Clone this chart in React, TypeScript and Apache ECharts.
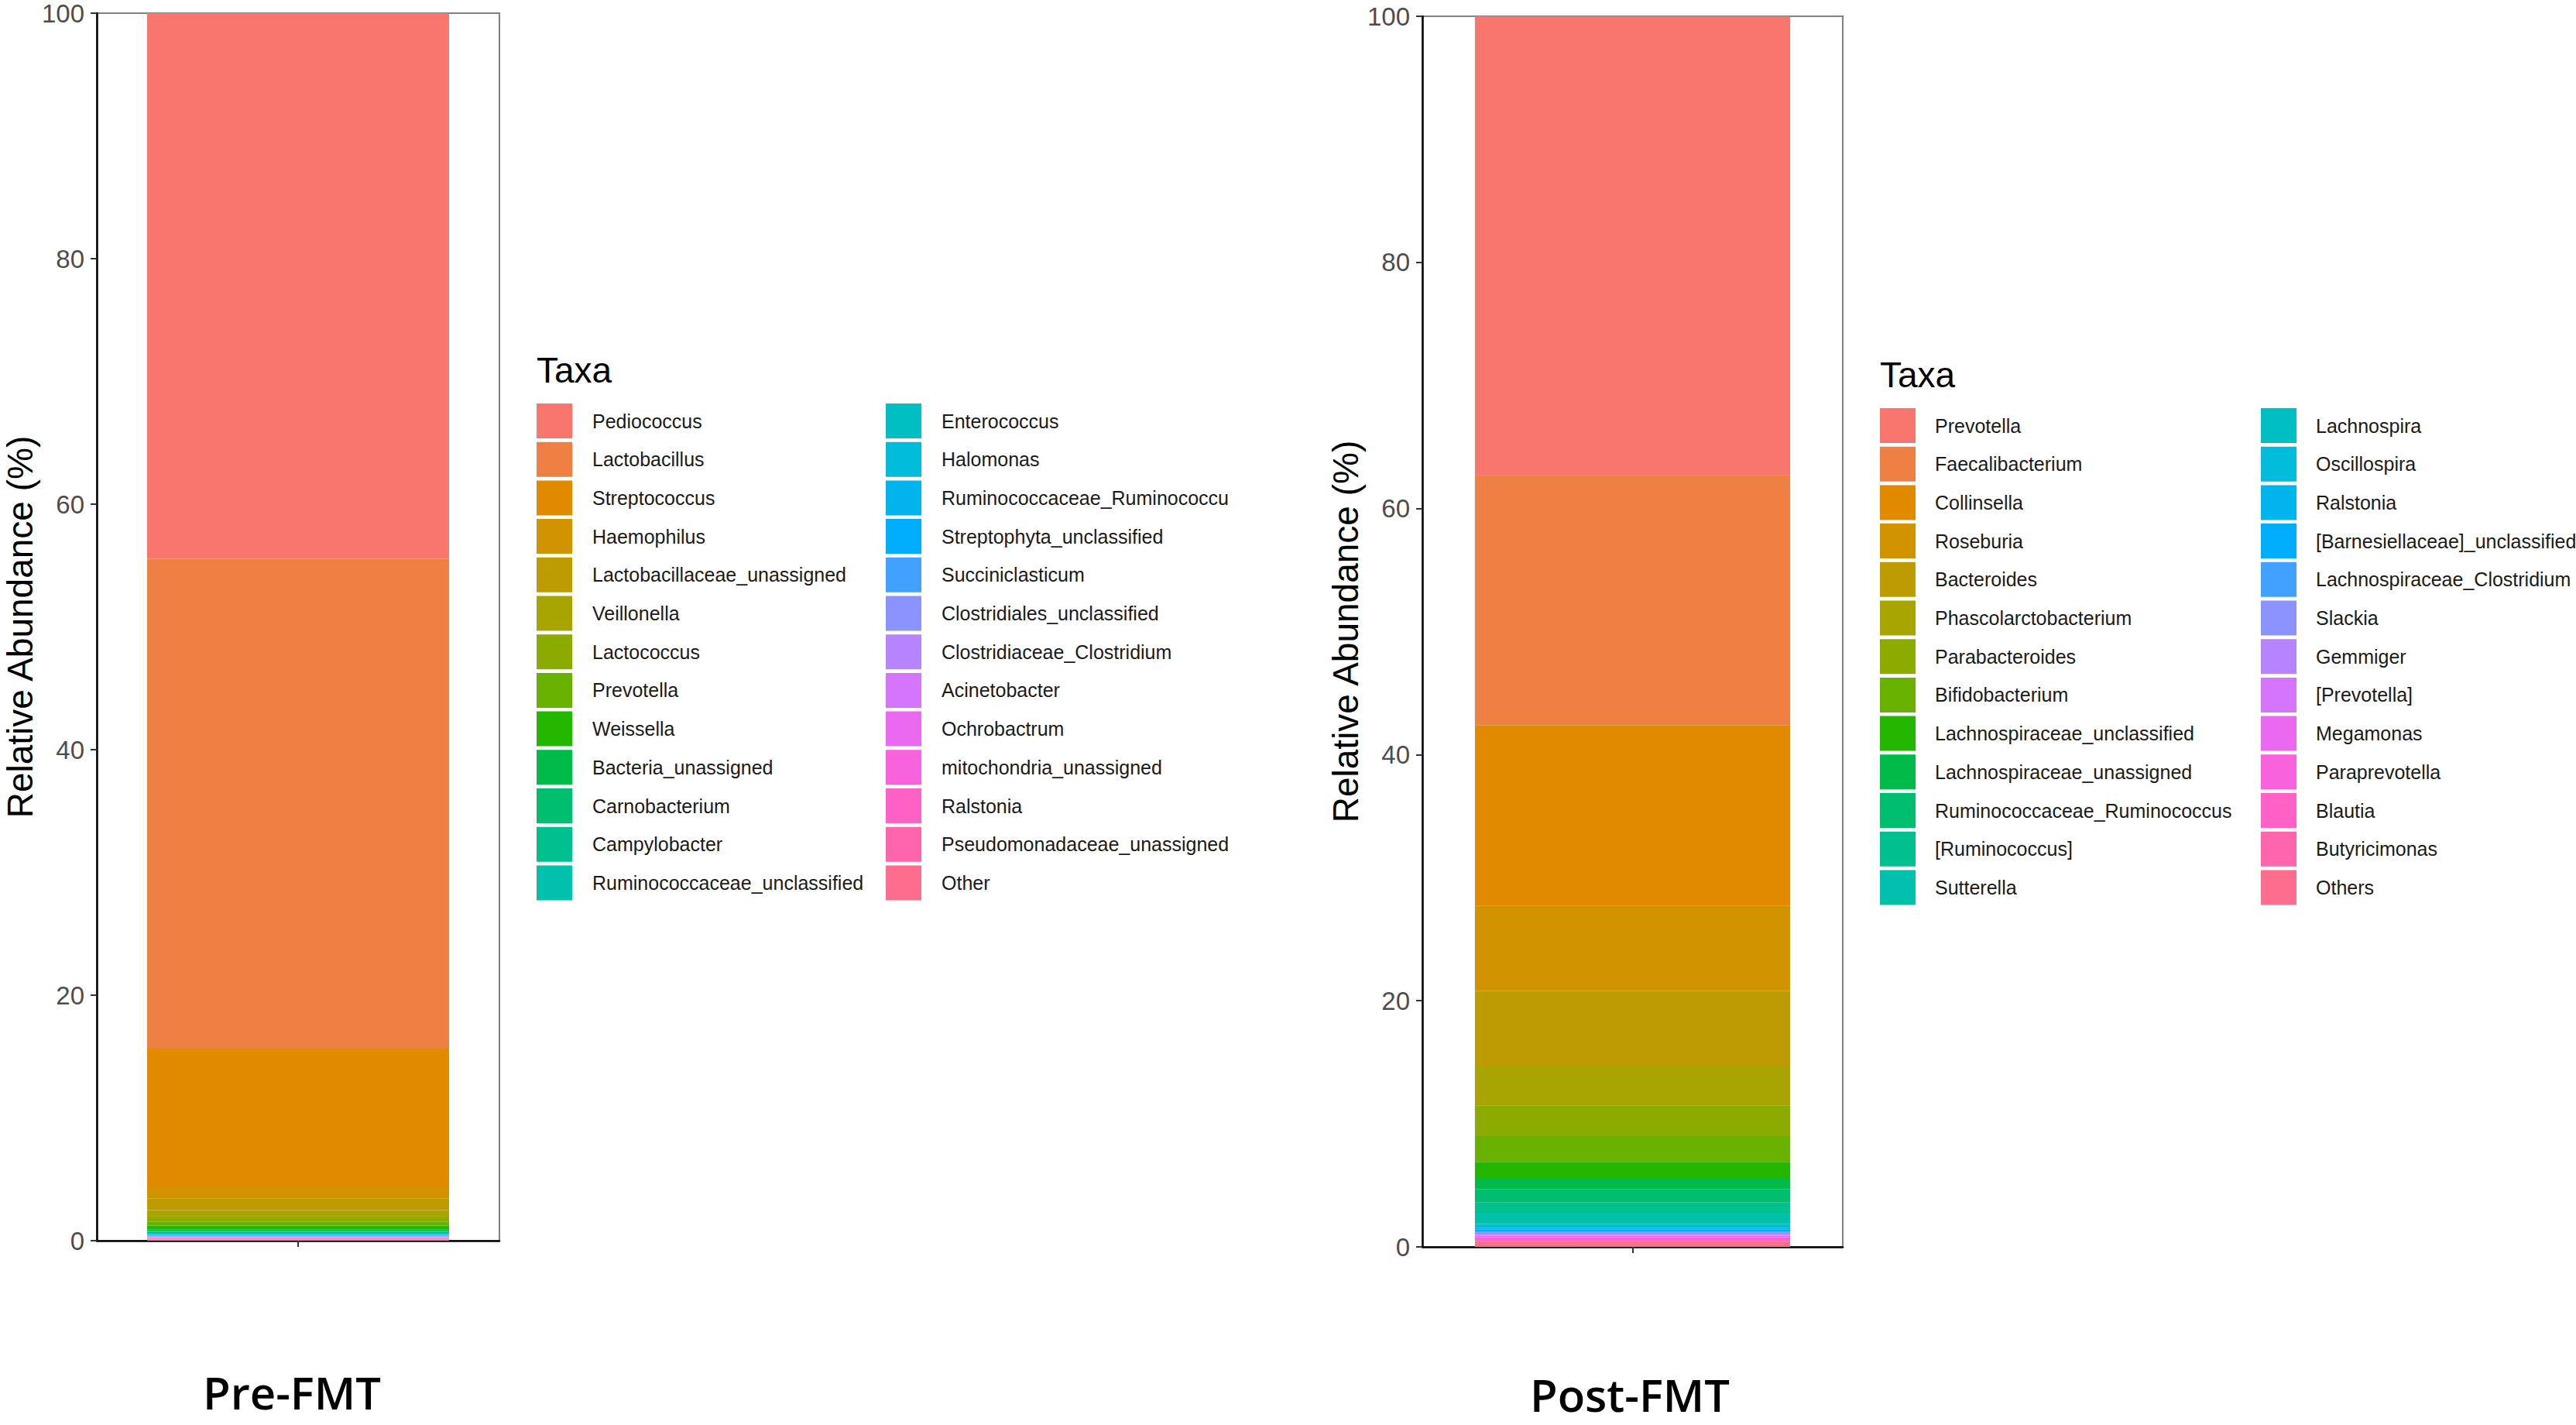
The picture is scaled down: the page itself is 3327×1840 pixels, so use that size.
import React, { useEffect, useRef } from "react";
import * as echarts from "echarts";

const preTaxa = [
  "Pediococcus", "Lactobacillus", "Streptococcus", "Haemophilus", "Lactobacillaceae_unassigned",
  "Veillonella", "Lactococcus", "Prevotella", "Weissella", "Bacteria_unassigned",
  "Carnobacterium", "Campylobacter", "Ruminococcaceae_unclassified", "Enterococcus", "Halomonas",
  "Ruminococcaceae_Ruminococcu", "Streptophyta_unclassified", "Succiniclasticum", "Clostridiales_unclassified",
  "Clostridiaceae_Clostridium", "Acinetobacter", "Ochrobactrum", "mitochondria_unassigned", "Ralstonia",
  "Pseudomonadaceae_unassigned", "Other",
];
const preValues = [
  44.45, 39.9, 11.3, 0.9, 0.95,
  0.6, 0.37, 0.3, 0.3, 0.12,
  0.1, 0.08, 0.06, 0.05, 0.05,
  0.04, 0.04, 0.03, 0.03,
  0.03, 0.03, 0.03, 0.04, 0.05,
  0.05, 0.1,
];

const postTaxa = [
  "Prevotella", "Faecalibacterium", "Collinsella", "Roseburia", "Bacteroides",
  "Phascolarctobacterium", "Parabacteroides", "Bifidobacterium", "Lachnospiraceae_unclassified",
  "Lachnospiraceae_unassigned", "Ruminococcaceae_Ruminococcus", "[Ruminococcus]", "Sutterella",
  "Lachnospira", "Oscillospira", "Ralstonia", "[Barnesiellaceae]_unclassified", "Lachnospiraceae_Clostridium",
  "Slackia", "Gemmiger", "[Prevotella]", "Megamonas", "Paraprevotella", "Blautia", "Butyricimonas", "Others",
];
const postValues = [
  37.3, 20.3, 14.7, 6.9, 6.2,
  3.1, 2.5, 2.1, 1.3,
  0.9, 1.1, 0.9, 0.85,
  0.15, 0.15, 0.15, 0.15, 0.1,
  0.08, 0.08, 0.1, 0.1, 0.1, 0.12, 0.12, 0.45,
];

const panelLabels = ["Pre-FMT", "Post-FMT"];
const yAxisTitle = "Relative Abundance (%)";
const legendTitle = "Taxa";

function hcl2hex(h: number, c: number, l: number): string {
  const hr = (h * Math.PI) / 180;
  const U = c * Math.cos(hr);
  const V = c * Math.sin(hr);
  const Y = l > 8 ? Math.pow((l + 16) / 116, 3) : l / 903.2963;
  const un = 0.1978398, vn = 0.4683363;
  const u = U / (13 * l) + un;
  const v = V / (13 * l) + vn;
  const X = (9 * Y * u) / (4 * v);
  const Z = (Y * (12 - 3 * u - 20 * v)) / (4 * v);
  const lin = [
    3.2404542 * X - 1.5371385 * Y - 0.4985314 * Z,
    -0.969266 * X + 1.8760108 * Y + 0.041556 * Z,
    0.0556434 * X - 0.2040259 * Y + 1.0572252 * Z,
  ];
  return (
    "#" +
    lin
      .map((x) => {
        let s = x <= 0.0031308 ? 12.92 * x : 1.055 * Math.pow(x, 1 / 2.4) - 0.055;
        s = Math.max(0, Math.min(1, s));
        return Math.round(s * 255).toString(16).padStart(2, "0");
      })
      .join("")
  );
}
function huePalette(n: number): string[] {
  return Array.from({ length: n }, (_, i) => hcl2hex(15 + (360 * i) / n, 100, 65));
}

const FONT = "Liberation Sans, Arial, sans-serif";

export default function App() {
  const ref = useRef<HTMLDivElement>(null);
  useEffect(() => {
    if (!ref.current) return;
    const chart = echarts.init(ref.current, undefined, { renderer: "svg" });
    const panels = [
      { key: "pre", taxa: preTaxa, values: preValues, grid: { left: 125, top: 17, width: 520, height: 1585 }, legendLeft: [693, 1144], legendTop: 521, textLeft: [765, 1216] },
      { key: "post", taxa: postTaxa, values: postValues, grid: { left: 1837, top: 21, width: 543, height: 1589 }, legendLeft: [2428, 2920], legendTop: 527, textLeft: [2499, 2991] },
    ];
    const series: any[] = [];
    const legends: any[] = [];
    panels.forEach((p, pi) => {
      const colors = huePalette(p.taxa.length);
      for (let i = p.taxa.length - 1; i >= 0; i--) {
        series.push({
          type: "bar",
          name: p.key + "|" + p.taxa[i],
          xAxisIndex: pi,
          yAxisIndex: pi,
          stack: p.key,
          barWidth: "75%",
          data: [p.values[i]],
          itemStyle: { color: colors[i] },
          emphasis: { disabled: true },
        });
      }
      [0, 1].forEach((col) => {
        legends.push({
          orient: "vertical",
          left: p.legendLeft[col],
          top: p.legendTop,
          padding: 0,
          itemWidth: 46,
          itemHeight: 45,
          itemGap: 4.7,
          icon: "rect",
          selectedMode: false,
          data: p.taxa.slice(col * 13, col * 13 + 13).map((n) => p.key + "|" + n),
          formatter: (n: string) => n.split("|")[1],
          textStyle: { fontSize: 25, color: "#1a1a1a", fontFamily: FONT, padding: [0, 0, 0, p.textLeft[col] - p.legendLeft[col] - 51] },
        });
      });
    });
    const option: any = {
      animation: false,
      backgroundColor: "#ffffff",
      grid: panels.map((p) => ({ ...p.grid, show: true, borderColor: "#808080", borderWidth: 2, backgroundColor: "transparent" })),
      xAxis: panels.map((p, pi) => ({
        type: "category",
        gridIndex: pi,
        data: [panelLabels[pi]],
        axisLine: { show: true, lineStyle: { color: "#000", width: 2.5 } },
        axisTick: { show: true, alignWithLabel: true, length: 8, lineStyle: { color: "#333", width: 2 } },
        axisLabel: { show: false },
        splitLine: { show: false },
      })),
      yAxis: panels.map((p, pi) => ({
        type: "value",
        gridIndex: pi,
        min: 0,
        max: 100,
        interval: 20,
        name: yAxisTitle,
        nameLocation: "middle",
        nameGap: 76,
        nameTextStyle: { fontSize: 46, color: "#000", fontFamily: FONT },
        axisLine: { show: true, lineStyle: { color: "#000", width: 2.5 } },
        axisTick: { show: true, length: 8, lineStyle: { color: "#333", width: 2 } },
        axisLabel: { fontSize: 33, lineHeight: 28, color: "#4d4d4d", margin: 16, fontFamily: FONT },
        splitLine: { show: false },
      })),
      legend: legends,
      graphic: [
        { type: "text", x: 693, y: 478, style: { text: legendTitle, fontSize: 46, fill: "#000", fontFamily: FONT, textVerticalAlign: "middle" } },
        { type: "text", x: 2428, y: 484, style: { text: legendTitle, fontSize: 46, fill: "#000", fontFamily: FONT, textVerticalAlign: "middle" } },
        { type: "text", x: 377, y: 1797, style: { text: panelLabels[0], fontSize: 58, lineHeight: 56, fontWeight: 600, fill: "#000", fontFamily: "Open Sans, sans-serif", textAlign: "center", textVerticalAlign: "middle" } },
        { type: "text", x: 2105, y: 1800, style: { text: panelLabels[1], fontSize: 58, lineHeight: 56, fontWeight: 600, fill: "#000", fontFamily: "Open Sans, sans-serif", textAlign: "center", textVerticalAlign: "middle" } },
      ],
      series,
    };
    chart.setOption(option);
    return () => chart.dispose();
  }, []);
  return <div ref={ref} style={{ position: "fixed", left: 0, top: 0, width: 3327, height: 1840 }} />;
}
